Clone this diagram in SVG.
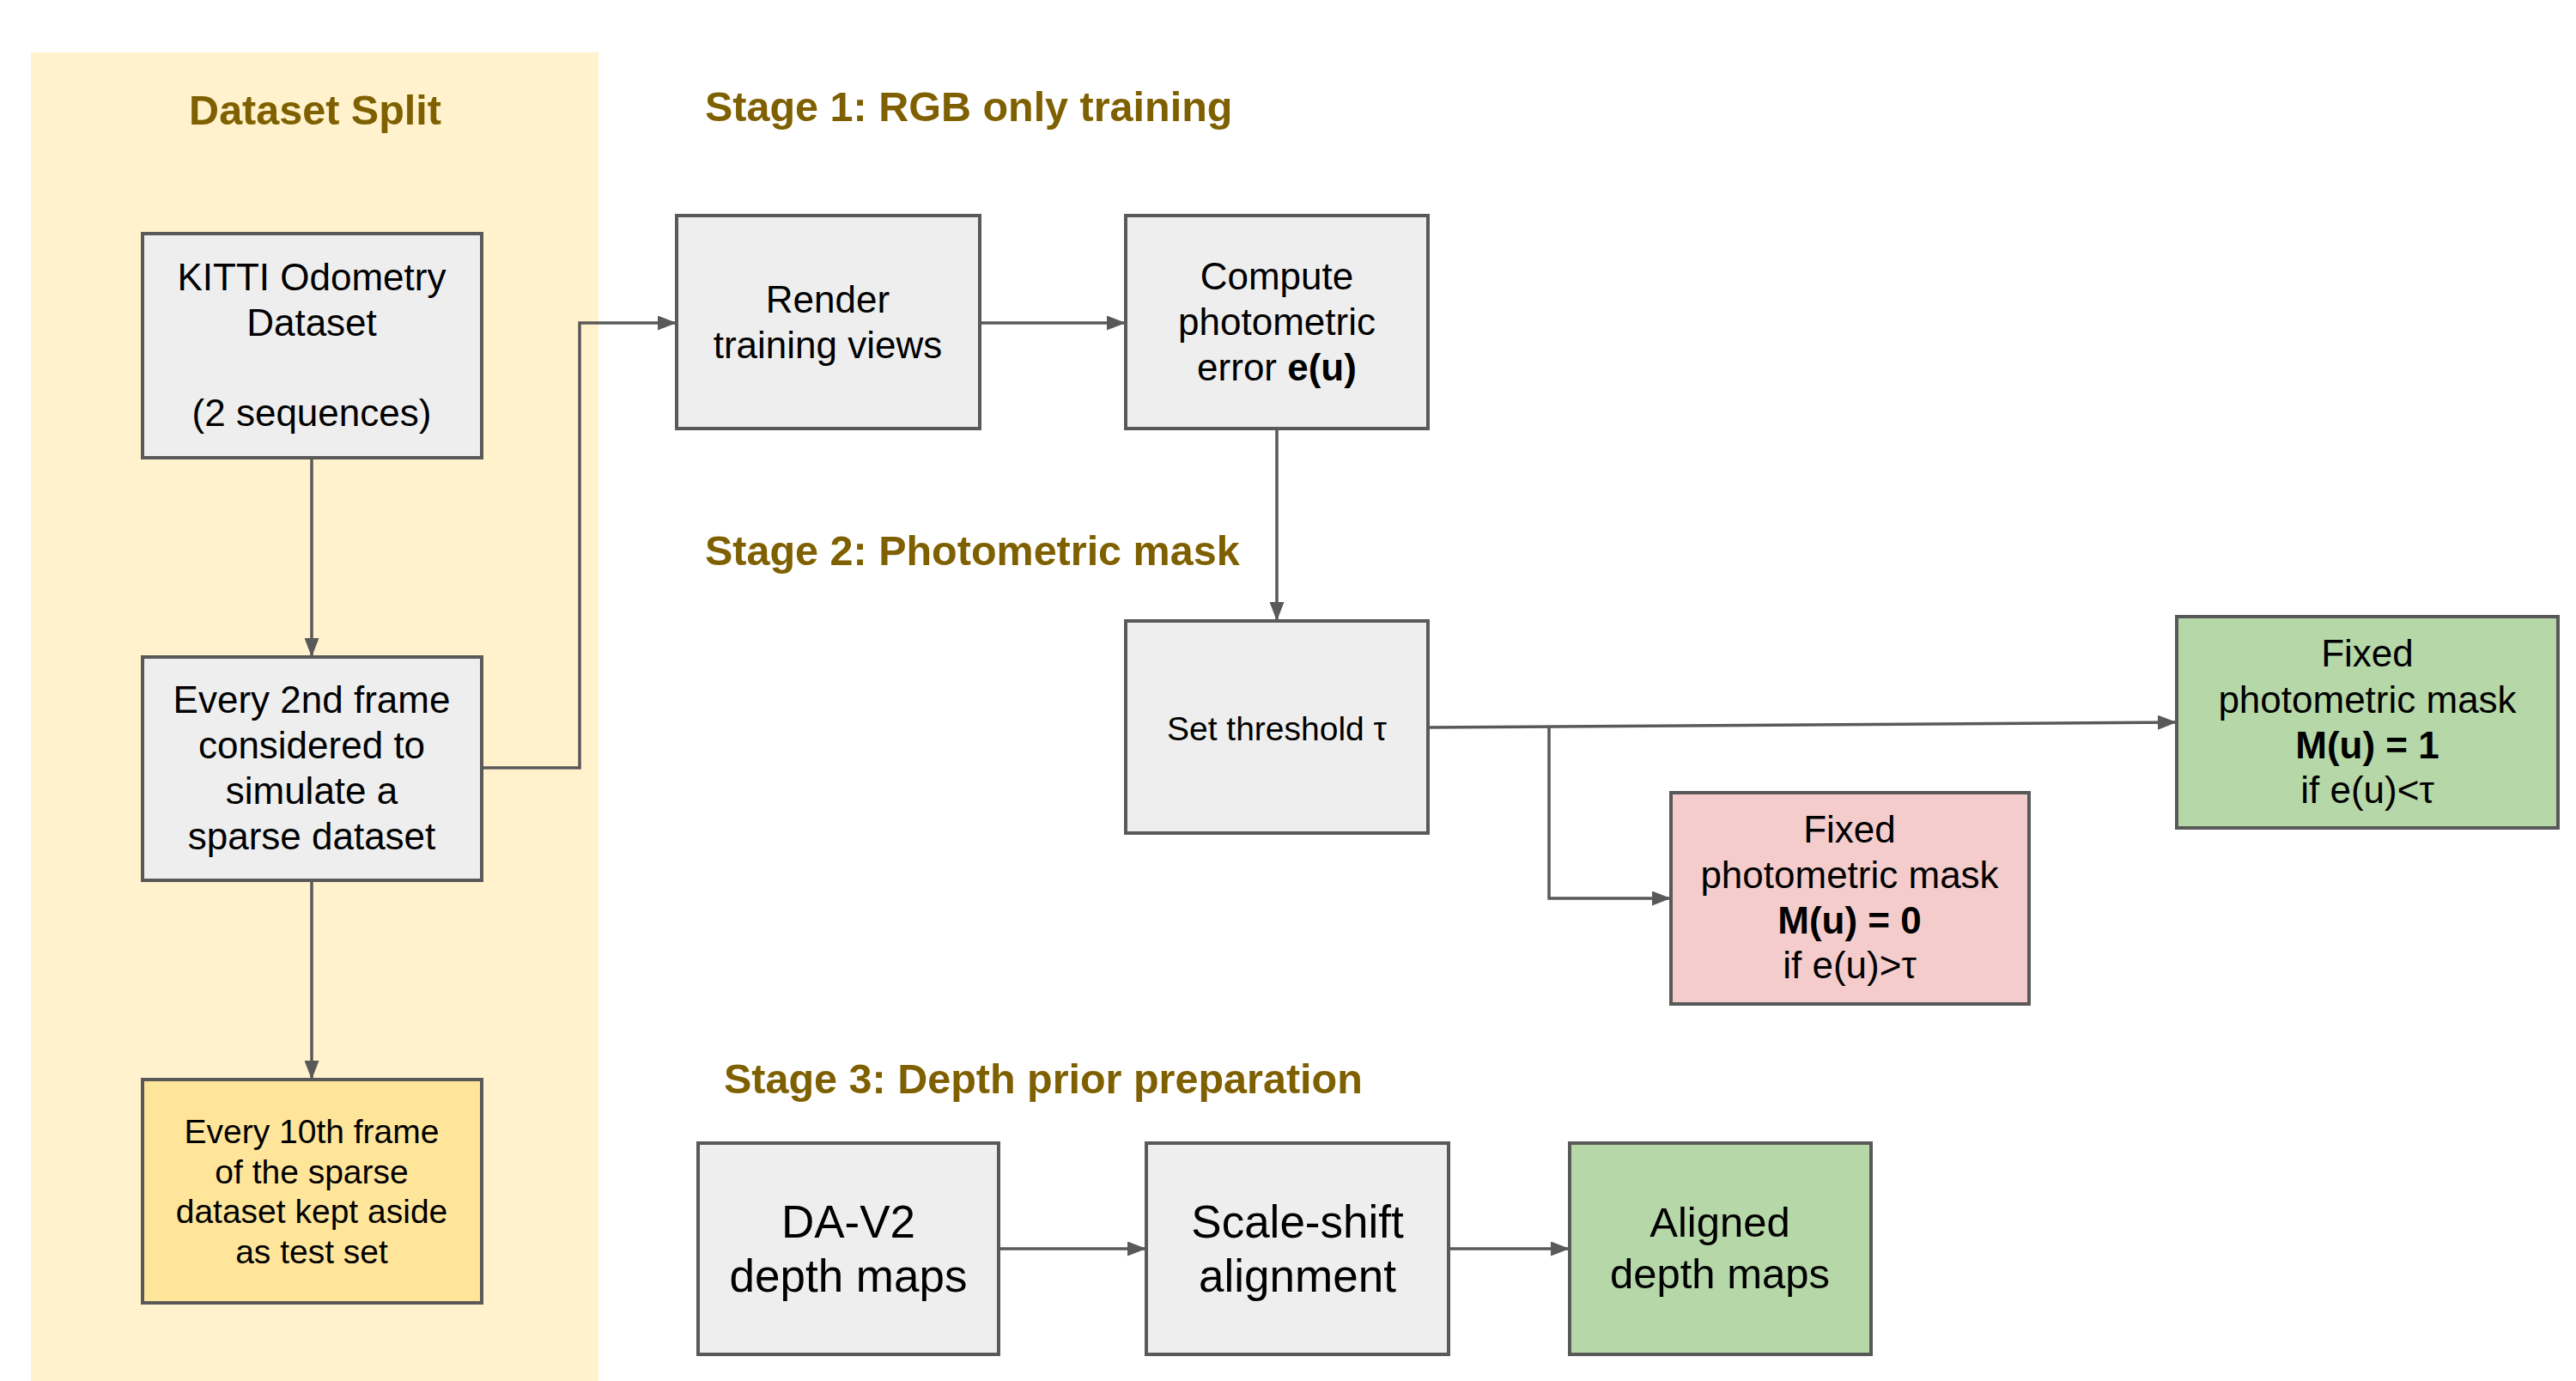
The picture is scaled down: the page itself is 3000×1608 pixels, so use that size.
<svg xmlns="http://www.w3.org/2000/svg" width="3000" height="1608" viewBox="0 0 3000 1608">
<defs>
<style>
.box{stroke:#595959;stroke-width:4}
.gray{fill:#eeeeee}
.yel{fill:#ffe599}
.grn{fill:#b6d7a8}
.pnk{fill:#f4cccc}
.t{font-family:"Liberation Sans",Arial,sans-serif;font-size:44px;fill:#000;text-anchor:middle}
.s{font-size:39px}
.l{font-size:53px}
.m{font-size:49px}
.b{font-weight:bold}
.title{font-family:"Liberation Sans",Arial,sans-serif;font-size:48.5px;font-weight:bold;fill:#7f6000}
.conn{fill:none;stroke:#595959;stroke-width:3.5}
</style>
<marker id="arr" markerUnits="userSpaceOnUse" markerWidth="22" markerHeight="17" refX="22" refY="8.5" orient="auto">
<path d="M0,0 L22,8.5 L0,17 z" fill="#595959"/>
</marker>
</defs>
<rect width="3000" height="1608" fill="#ffffff"/>
<g id="panel">
<rect x="36" y="61" width="661" height="1547" fill="#fff2cc"/>
<text class="title" x="367" y="145" text-anchor="middle">Dataset Split</text>
</g>
<g id="titles">
<text class="title" x="821" y="141">Stage 1: RGB only training</text>
<text class="title" x="821" y="658">Stage 2: Photometric mask</text>
<text class="title" x="843" y="1273">Stage 3: Depth prior preparation</text>
</g>
<g id="connectors">
<path class="conn" d="M363,533 L363,765" marker-end="url(#arr)"/>
<path class="conn" d="M363,1025 L363,1257" marker-end="url(#arr)"/>
<path class="conn" d="M561,894 L675,894 L675,376 L788,376" marker-end="url(#arr)"/>
<path class="conn" d="M1141,376 L1311,376" marker-end="url(#arr)"/>
<path class="conn" d="M1487,499 L1487,723" marker-end="url(#arr)"/>
<path class="conn" d="M1663,847 L2535,841" marker-end="url(#arr)"/>
<path class="conn" d="M1804,847 L1804,1046 L1946,1046" marker-end="url(#arr)"/>
<path class="conn" d="M1163,1454 L1335,1454" marker-end="url(#arr)"/>
<path class="conn" d="M1687,1454 L1828,1454" marker-end="url(#arr)"/>
</g>
<g id="kitti">
<rect class="box gray" x="166" y="272" width="395" height="261"/>
<text class="t" x="363" y="338">KITTI Odometry</text>
<text class="t" x="363" y="391">Dataset</text>
<text class="t" x="363" y="496">(2 sequences)</text>
</g>
<g id="every2nd">
<rect class="box gray" x="166" y="765" width="395" height="260"/>
<text class="t" x="363" y="830">Every 2nd frame</text>
<text class="t" x="363" y="883">considered to</text>
<text class="t" x="363" y="936">simulate a</text>
<text class="t" x="363" y="989">sparse dataset</text>
</g>
<g id="every10th">
<rect class="box yel" x="166" y="1257" width="395" height="260"/>
<text class="t s" x="363" y="1331">Every 10th frame</text>
<text class="t s" x="363" y="1378">of the sparse</text>
<text class="t s" x="363" y="1424">dataset kept aside</text>
<text class="t s" x="363" y="1471">as test set</text>
</g>
<g id="render">
<rect class="box gray" x="788" y="251" width="353" height="248"/>
<text class="t" x="964" y="364">Render</text>
<text class="t" x="964" y="417">training views</text>
</g>
<g id="compute">
<rect class="box gray" x="1311" y="251" width="352" height="248"/>
<text class="t" x="1487" y="337">Compute</text>
<text class="t" x="1487" y="390">photometric</text>
<text class="t" x="1487" y="443">error <tspan class="b">e(u)</tspan></text>
</g>
<g id="threshold">
<rect class="box gray" x="1311" y="723" width="352" height="247"/>
<text class="t s" x="1487" y="862">Set threshold τ</text>
</g>
<g id="mask1">
<rect class="box grn" x="2535" y="718" width="444" height="246"/>
<text class="t" x="2757" y="776">Fixed</text>
<text class="t" x="2757" y="830">photometric mask</text>
<text class="t b" x="2757" y="883">M(u) = 1</text>
<text class="t" x="2757" y="935">if e(u)&lt;τ</text>
</g>
<g id="mask0">
<rect class="box pnk" x="1946" y="923" width="417" height="246"/>
<text class="t" x="2154" y="981">Fixed</text>
<text class="t" x="2154" y="1034">photometric mask</text>
<text class="t b" x="2154" y="1087">M(u) = 0</text>
<text class="t" x="2154" y="1139">if e(u)&gt;τ</text>
</g>
<g id="dav2">
<rect class="box gray" x="813" y="1331" width="350" height="246"/>
<text class="t l" x="988" y="1441">DA-V2</text>
<text class="t l" x="988" y="1504">depth maps</text>
</g>
<g id="scaleshift">
<rect class="box gray" x="1335" y="1331" width="352" height="246"/>
<text class="t l" x="1511" y="1441">Scale-shift</text>
<text class="t l" x="1511" y="1504">alignment</text>
</g>
<g id="aligned">
<rect class="box grn" x="1828" y="1331" width="351" height="246"/>
<text class="t m" x="2003" y="1440">Aligned</text>
<text class="t m" x="2003" y="1500">depth maps</text>
</g>
</svg>
